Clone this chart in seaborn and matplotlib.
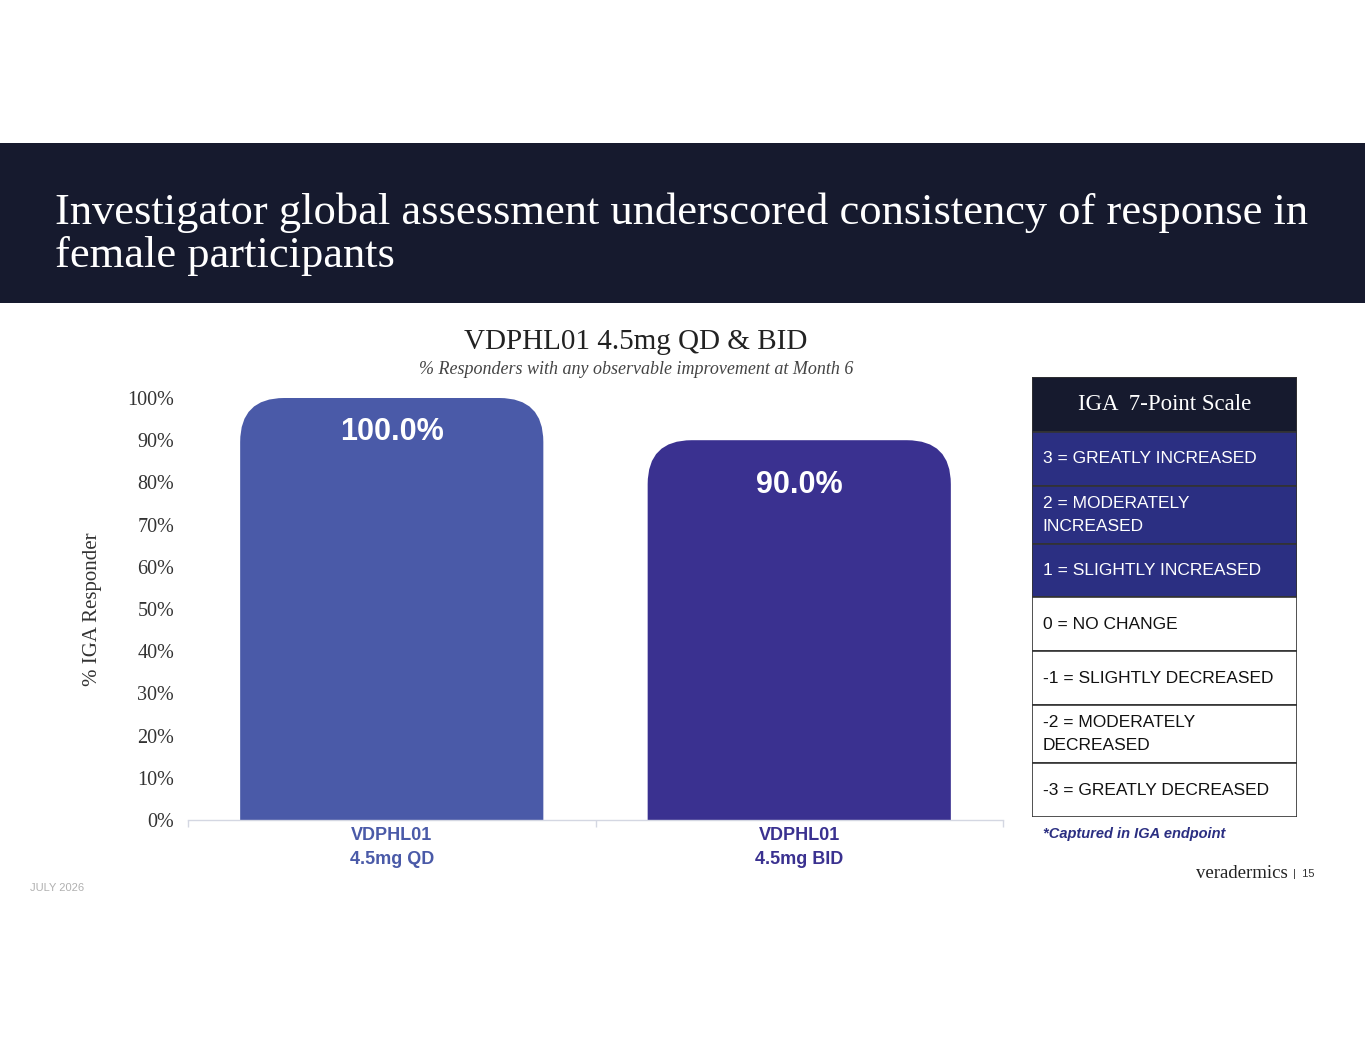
import matplotlib
matplotlib.use("Agg")
import matplotlib.pyplot as plt
import seaborn as sns
import pandas as pd
from matplotlib.patches import Rectangle, PathPatch
from matplotlib.path import Path

# data
categories = ["VDPHL01\n4.5mg QD", "VDPHL01\n4.5mg BID"]
responders = [100.0, 90.0]
bar_colors = ["#4a5aa8", "#3a3190"]
y_ticks = [0, 10, 20, 30, 40, 50, 60, 70, 80, 90, 100]

scale_labels = [
    "3 = GREATLY INCREASED",
    "2 = MODERATELY\nINCREASED",
    "1 = SLIGHTLY INCREASED",
    "0 = NO CHANGE",
    "-1 = SLIGHTLY DECREASED",
    "-2 = MODERATELY\nDECREASED",
    "-3 = GREATLY DECREASED",
]
scale_captured = [True, True, True, False, False, False, False]

sns.set_theme(style="white")
plt.rcParams["font.family"] = ["Liberation Sans", "DejaVu Sans"]

W, H = 1365, 1055
fig = plt.figure(figsize=(W / 100, H / 100), dpi=100)
fig.patch.set_facecolor("white")

def fx(px):
    return px / W

def fy(py):
    return 1 - py / H

dark = "#161a2e"
blue = "#2b2f82"

# header band
fig.patches.append(Rectangle((0, fy(303)), 1, (303 - 143) / H, transform=fig.transFigure,
                             facecolor=dark, edgecolor="none", zorder=0))
fig.text(fx(55), fy(213), "Investigator global assessment underscored consistency of response in",
         color="white", fontsize=32, family="Liberation Serif", va="center", ha="left")
fig.text(fx(55), fy(256), "female participants",
         color="white", fontsize=32, family="Liberation Serif", va="center", ha="left")

# chart
ax = fig.add_axes([fx(188), fy(820), (1003 - 188) / W, (820 - 398) / H])
df = pd.DataFrame({"group": categories, "pct": responders})
sns.barplot(data=df, x="group", y="pct", hue="group", palette=bar_colors, legend=False,
            width=0.744, ax=ax, saturation=1)
ax.set_xlim(-0.5, 1.5)
ax.set_ylim(0, 100)

# rounded top corners
radius_px = 44
px_x = ax.transData.transform((1, 0))[0] - ax.transData.transform((0, 0))[0]
px_y = ax.transData.transform((0, 1))[1] - ax.transData.transform((0, 0))[1]
rx, ry = radius_px / px_x, radius_px / px_y
for p in list(ax.patches):
    x0, y0, w, h = p.get_x(), p.get_y(), p.get_width(), p.get_height()
    x1, y1 = x0 + w, y0 + h
    verts = [(x0, y0), (x0, y1 - ry), (x0, y1), (x0 + rx, y1), (x1 - rx, y1),
             (x1, y1), (x1, y1 - ry), (x1, y0), (x0, y0)]
    codes = [Path.MOVETO, Path.LINETO, Path.CURVE3, Path.CURVE3, Path.LINETO,
             Path.CURVE3, Path.CURVE3, Path.LINETO, Path.CLOSEPOLY]
    ax.add_patch(PathPatch(Path(verts, codes), facecolor=p.get_facecolor(),
                           edgecolor="none", zorder=2))
    p.remove()

label_offsets = [-34, -45]
for i, v in enumerate(responders):
    ax.annotate(f"{v:.1f}%", (i, v), xytext=(0, label_offsets[i] * 0.72), textcoords="offset points",
                ha="center", va="center", color="white", fontsize=22, fontweight="bold")

ax.set_yticks(y_ticks)
ax.set_yticklabels([f"{t}%" for t in y_ticks], family="Liberation Serif", fontsize=14.5, color="#333333")
ax.tick_params(axis="y", length=0, pad=10)
ax.set_xticks([0, 1])
ax.set_xticklabels(categories, fontsize=13, fontweight="bold", linespacing=1.55)
for lbl, c in zip(ax.get_xticklabels(), bar_colors):
    lbl.set_color(c)
ax.set_xticks([-0.5, 0.5, 1.5], minor=True)
ax.tick_params(axis="x", which="major", length=0, pad=5)
ax.tick_params(axis="x", which="minor", length=5, color="#d4d7e2", width=1, direction="out", bottom=True)
ax.set_xlabel("")
ax.set_ylabel("% IGA Responder", family="Liberation Serif", fontsize=15, color="#333333", labelpad=18)
for s in ["top", "right", "left"]:
    ax.spines[s].set_visible(False)
ax.spines["bottom"].set_color("#d4d7e2")
ax.spines["bottom"].set_linewidth(1)
ax.grid(False)
ax.set_facecolor("none")

fig.text(fx(636), fy(342), "VDPHL01 4.5mg QD & BID", family="Liberation Serif", fontsize=21,
         color="#222222", ha="center", va="center")
fig.text(fx(636), fy(369), "% Responders with any observable improvement at Month 6",
         family="Liberation Serif", style="italic", fontsize=13, color="#444444", ha="center", va="center")

# IGA scale table
tax = fig.add_axes([fx(1032), fy(817), (1297 - 1032) / W, (817 - 377) / H])
row_heights = [55] + [58 if "\n" in s else 54 for s in scale_labels]
total = sum(row_heights)
tax.set_xlim(0, 1)
tax.set_ylim(total, 0)
tax.axis("off")
top = 0
tax.add_patch(Rectangle((0, top), 1, row_heights[0], facecolor=dark, edgecolor="#333333", lw=1.2))
tax.text(0.5, top + row_heights[0] / 2, "IGA  7-Point Scale", color="white", family="Liberation Serif",
         fontsize=16.5, ha="center", va="center")
top += row_heights[0]
for lab, cap, rh in zip(scale_labels, scale_captured, row_heights[1:]):
    tax.add_patch(Rectangle((0, top), 1, rh, facecolor=blue if cap else "white",
                            edgecolor="#333333", lw=1.2))
    tax.text(0.04, top + rh / 2, lab, color="white" if cap else "#111111", fontsize=12.5,
             ha="left", va="center", linespacing=1.65)
    top += rh

fig.text(fx(1043), fy(834), "*Captured in IGA endpoint", color=blue, fontsize=10.5,
         fontweight="bold", style="italic", ha="left", va="center")

fig.text(fx(1288), fy(874), "veradermics", family="Liberation Serif", fontsize=13.5, color="#222222",
         ha="right", va="center")
fig.text(fx(1293), fy(874), "|  15", fontsize=8, color="#333333", ha="left", va="center")
fig.text(fx(30), fy(888), "JULY 2026", fontsize=8, color="#b0b0b0", ha="left", va="center")

fig.savefig("out.png", dpi=100)
